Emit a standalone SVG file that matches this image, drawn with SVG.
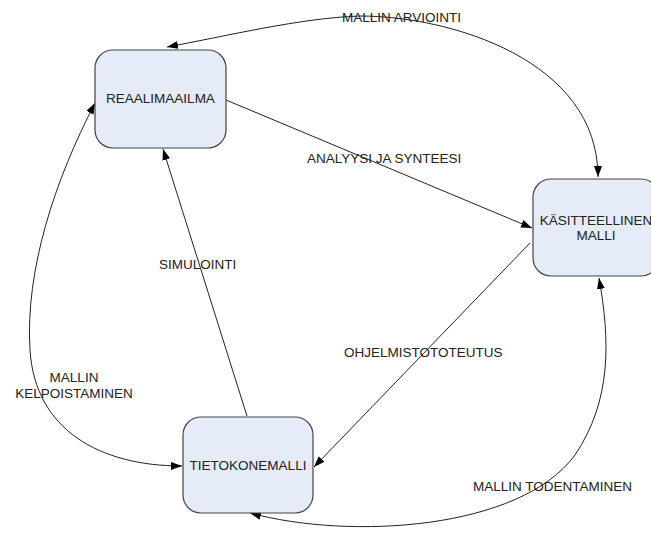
<svg xmlns="http://www.w3.org/2000/svg" width="651" height="536" viewBox="0 0 651 536">
<defs>
<style>
.box{fill:#e5ebf7;stroke:#444;stroke-width:1.2}
.t{font-family:"Liberation Sans",Arial,sans-serif;font-size:13.5px;fill:#222}
.c{text-anchor:middle}
.ln{fill:none;stroke:#222;stroke-width:1}
</style>
<marker id="ah" markerWidth="12" markerHeight="10" refX="11" refY="4" orient="auto-start-reverse" markerUnits="userSpaceOnUse">
<path d="M0,0 L11,4 L0,8 z" fill="#000"/>
</marker>
</defs>
<rect width="651" height="536" fill="#fff"/>
<g id="connectors">
<path class="ln" d="M167 47 C227 36 300 18 360 16 C450 16 598 60 598 177" marker-start="url(#ah)" marker-end="url(#ah)"/>
<path class="ln" d="M226 100 L532 228" marker-end="url(#ah)"/>
<path class="ln" d="M530 243 L314 467" marker-end="url(#ah)"/>
<path class="ln" d="M247 416 L163 149" marker-end="url(#ah)"/>
<path class="ln" d="M95 103 C55 180 25 270 30 350 C35 430 100 466 182 466" marker-start="url(#ah)" marker-end="url(#ah)"/>
<path class="ln" d="M599 278 C610 340 612 400 575 455 C520 530 350 540 250 513" marker-start="url(#ah)" marker-end="url(#ah)"/>
</g>
<g id="labels">
<text class="t" x="342" y="22">MALLIN ARVIOINTI</text>
<text class="t" x="307" y="163">ANALYYSI JA SYNTEESI</text>
<text class="t" x="344" y="357">OHJELMISTOTOTEUTUS</text>
<text class="t" x="159" y="269">SIMULOINTI</text>
<text class="t c" x="74" y="382">MALLIN</text>
<text class="t c" x="74" y="398">KELPOISTAMINEN</text>
<text class="t" x="473" y="491">MALLIN TODENTAMINEN</text>
</g>
<g id="reaalimaailma">
<rect class="box" x="95" y="50" width="131" height="98" rx="18"/>
<text class="t c" x="160.5" y="103">REAALIMAAILMA</text>
</g>
<g id="kasitteellinen">
<rect class="box" x="533" y="179" width="126" height="97" rx="18"/>
<text class="t c" x="596" y="225">KÄSITTEELLINEN</text>
<text class="t c" x="596" y="240">MALLI</text>
</g>
<g id="tietokonemalli">
<rect class="box" x="183" y="417" width="130" height="96" rx="18"/>
<text class="t c" x="248" y="470">TIETOKONEMALLI</text>
</g>
</svg>
